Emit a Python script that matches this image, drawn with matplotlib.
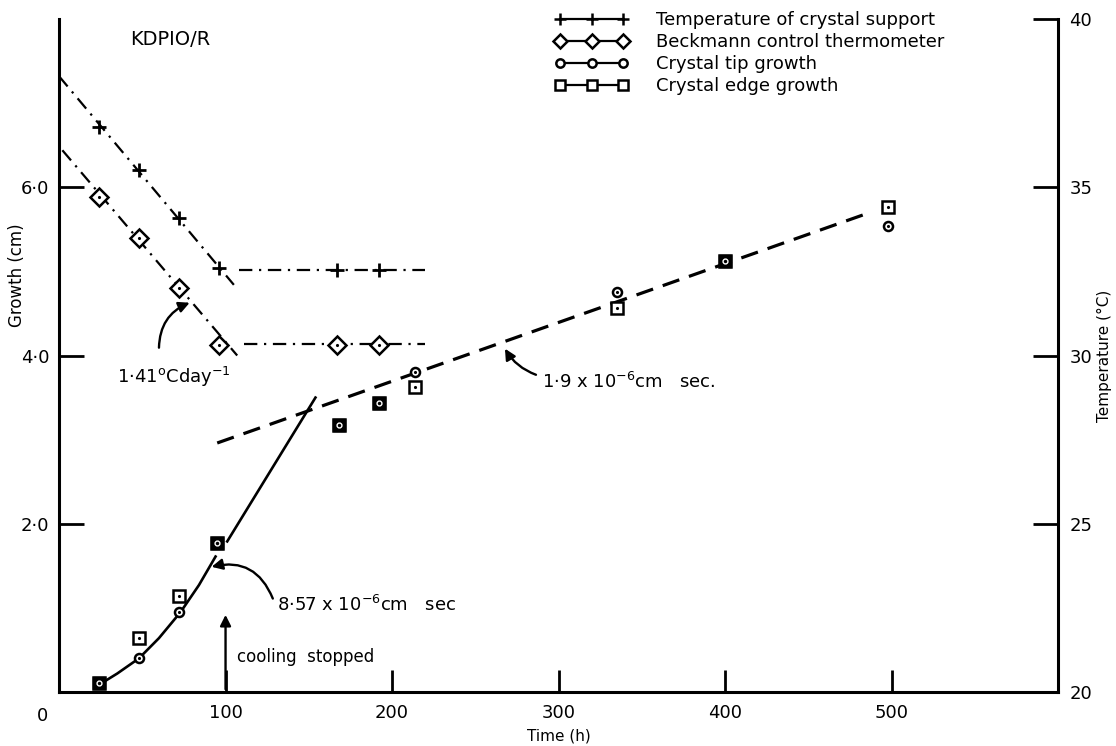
import numpy as np
import matplotlib.pyplot as plt
from matplotlib.lines import Line2D

plt.rcParams['font.family'] = 'DejaVu Sans'

# Crescimento do cristal (cm) - leitura do gráfico
tempo = [24, 48, 72, 95, 168, 192, 214, 335, 400, 498]
ponta = [0.11, 0.40, 0.95, 1.77, 3.17, 3.43, 3.80, 4.76, 5.12, 5.54]
borda = [0.11, 0.64, 1.14, 1.77, 3.17, 3.43, 3.62, 4.56, 5.12, 5.77]

# Temperaturas (°C)
t_temp = [24, 48, 72, 96, 167, 192]
temp_suporte = [36.8, 35.5, 34.1, 32.6, 32.55, 32.55]
temp_beckmann = [34.7, 33.5, 32.0, 30.3, 30.3, 30.3]

# Retas de resfriamento e patamares
reta_sup_t, reta_sup_T = [0, 105], [38.3, 32.1]
pat_sup_t, pat_sup_T = [108, 220], [32.55, 32.55]
reta_beck_t, reta_beck_T = [2, 107], [36.1, 30.0]
pat_beck_t, pat_beck_T = [111, 220], [30.35, 30.35]

# Curva de crescimento (traço contínuo) e reta tracejada
curva_t = [26, 35, 48, 60, 73, 84, 94, np.nan, 101, 154]
curva_g = [0.11, 0.22, 0.40, 0.64, 0.95, 1.27, 1.61, np.nan, 1.79, 3.50]
tracejada_t, tracejada_g = [95, 487], [2.96, 5.70]

fig = plt.figure(figsize=(11.16, 7.46), dpi=100)
ax = fig.add_axes([0.0529, 0.0724, 0.8952, 0.9021])
ax2 = ax.twinx()

# crescimento
ax.plot(curva_t, curva_g, 'k-', lw=1.9, zorder=2)
ax.plot(tracejada_t, tracejada_g, 'k', lw=2.3, ls=(0, (5.5, 3.2)), zorder=2)

ax.plot(tempo, ponta, 'o', ls='none', ms=6.5, mfc='white', mec='k', mew=1.8, zorder=4)
ax.plot(tempo, ponta, '.', ls='none', ms=2.5, color='k', zorder=5)
ax.plot(tempo, borda, 's', ls='none', ms=9, mfc='white', mec='k', mew=1.8, zorder=4)
ax.plot(tempo, borda, '.', ls='none', ms=2.5, color='k', zorder=5)

# pontos onde ponta e borda coincidem: quadrado cheio
t_arr, p_arr, b_arr = np.array(tempo), np.array(ponta), np.array(borda)
igual = np.isclose(p_arr, b_arr)
ax.plot(t_arr[igual], b_arr[igual], 's', ls='none', ms=9, color='k', zorder=6)
ax.plot(t_arr[igual], b_arr[igual], 'o', ls='none', ms=3.5, mfc='none', mec='white', mew=1.0, zorder=7)

# temperaturas
traco_ponto = (0, (6, 3, 1, 3))
ax2.plot(reta_sup_t, reta_sup_T, 'k', lw=1.6, ls=traco_ponto)
ax2.plot(pat_sup_t, pat_sup_T, 'k', lw=1.6, ls=traco_ponto)
ax2.plot(reta_beck_t, reta_beck_T, 'k', lw=1.6, ls=traco_ponto)
ax2.plot(pat_beck_t, pat_beck_T, 'k', lw=1.6, ls=traco_ponto)
ax2.plot(t_temp, temp_suporte, '+', ls='none', ms=10, color='k', mew=2, zorder=4)
ax2.plot(t_temp, temp_beckmann, 'D', ls='none', ms=9, mfc='white', mec='k', mew=1.8, zorder=4)
ax2.plot(t_temp, temp_beckmann, '.', ls='none', ms=2.5, color='k', zorder=5)

# eixos
ax.set_xlim(0, 600)
ax.set_ylim(0, 8)
ax2.set_ylim(20, 40)

ax.set_xticks([100, 200, 300, 400, 500])
ax.set_xticklabels(['100', '200', '300', '400', '500'])
ax.set_yticks([2, 4, 6])
ax.set_yticklabels(['2·0', '4·0', '6·0'])
ax2.set_yticks([20, 25, 30, 35, 40])

ax.tick_params(axis='x', direction='in', length=16, width=2, pad=9, labelsize=13)
ax.tick_params(axis='y', direction='in', length=18, width=2, pad=7, labelsize=13)
ax2.tick_params(axis='y', direction='in', length=18, width=2, pad=8, labelsize=13)

for a in (ax, ax2):
    a.spines['top'].set_visible(False)
    for s in a.spines.values():
        s.set_linewidth(2.2)
ax.spines['right'].set_visible(False)
ax2.spines['left'].set_visible(False)
ax2.spines['bottom'].set_visible(False)

ax.annotate('0', xy=(0, 0), xytext=(-12, -17), textcoords='offset points',
            ha='center', va='center', fontsize=13)

ax.set_xlabel('Time (h)', fontsize=11, labelpad=4)
ax.set_ylabel('Growth (cm)', fontsize=12)
ax.yaxis.set_label_coords(-0.033, 0.62)
ax2.set_ylabel('Temperature (°C)', fontsize=11)
ax2.yaxis.set_label_coords(1.039, 0.5)

# textos e setas
ax.text(67, 7.76, 'KDPIO/R', ha='center', va='center', fontsize=14)

seta = dict(arrowstyle='-|>', color='k', lw=1.7, mutation_scale=16)
ax.annotate('', xy=(80, 4.64), xytext=(60, 4.06),
            arrowprops=dict(seta, connectionstyle='arc3,rad=-0.35'))
ax.text(69, 3.74, '1·41$^{\\mathrm{o}}$Cday$^{-1}$', ha='center', va='center', fontsize=13)

ax.annotate('', xy=(90, 1.48), xytext=(129, 1.08),
            arrowprops=dict(seta, connectionstyle='arc3,rad=0.45'))
ax.text(131, 1.04, '8·57 x 10$^{-6}$cm   sec', ha='left', va='center', fontsize=13)

ax.annotate('', xy=(100, 0.95), xytext=(100, 0),
            arrowprops=dict(seta))
ax.text(107, 0.42, 'cooling  stopped', ha='left', va='center', fontsize=12)

ax.annotate('', xy=(267, 4.11), xytext=(288, 3.76),
            arrowprops=dict(seta, connectionstyle='arc3,rad=-0.2'))
ax.text(290, 3.68, '1·9 x 10$^{-6}$cm   sec.', ha='left', va='center', fontsize=13)

# legenda
alcas = [Line2D([], [], color='k', lw=1.6, marker='+', ms=9, mew=1.8),
         Line2D([], [], color='k', lw=1.6, marker='D', ms=7, mfc='white', mew=1.8),
         Line2D([], [], color='k', lw=1.6, marker='o', ms=6, mfc='white', mew=1.8),
         Line2D([], [], color='k', lw=1.6, marker='s', ms=7, mfc='white', mew=1.8)]
nomes = ['Temperature of crystal support', 'Beckmann control thermometer',
         'Crystal tip growth', 'Crystal edge growth']
ax2.legend(alcas, nomes, loc='upper left', bbox_to_anchor=(0.496, 1.012), frameon=False,
           numpoints=3, handlelength=4.1, handletextpad=1.5, labelspacing=0.22,
           fontsize=13, borderaxespad=0, borderpad=0)

plt.savefig('out.png', dpi=100)
